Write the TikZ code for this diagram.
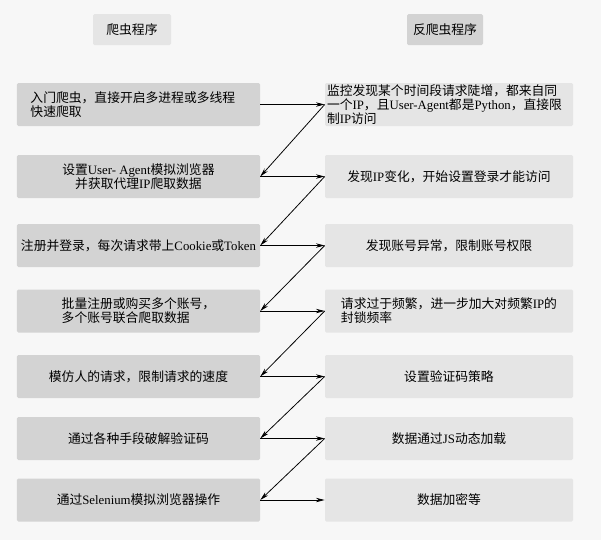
\documentclass[tikz,border=0pt]{standalone}
\usepackage{fontspec}
\setmainfont{Noto Sans CJK SC}
\newfontfamily\enfont{Liberation Serif}
\usepackage{xcolor}
\usepackage{tikz}
\usetikzlibrary{arrows.meta,positioning,calc}
\newcommand{\en}[1]{{\enfont #1}}
\definecolor{pagebg}{HTML}{F7F7F7}
\definecolor{crawlfill}{HTML}{D3D3D3}
\definecolor{antifill}{HTML}{E5E5E5}

\begin{document}
\begin{tikzpicture}[
  font=\fontsize{9.1pt}{10pt}\selectfont,
  crawlbox/.style={fill=crawlfill, rounded corners=1pt, align=left, minimum width=6.075cm, minimum height=1.075cm, inner sep=1pt},
  antibox/.style={fill=antifill, rounded corners=1pt, align=left, minimum width=6.2cm, minimum height=1.075cm, inner sep=1pt},
  crawlhead/.style={fill=antifill, rounded corners=1pt, minimum width=1.95cm, minimum height=0.775cm},
  antihead/.style={fill=crawlfill, rounded corners=1pt, minimum width=1.9cm, minimum height=0.775cm},
  wire/.style={-{Stealth[length=2.2mm, width=1.1mm]}, line width=0.55pt}
]
\useasboundingbox[fill=pagebg] (0,0) rectangle (15.025,-13.5);

\node[crawlhead] (hc) at (3.3,-0.74) {爬虫程序};
\node[antihead] (ha) at (11.125,-0.74) {反爬虫程序};

\node[crawlbox, text width=5.4cm] (c1) at (3.4625,-2.6125) {入门爬虫，直接开启多进程或多线程\\快速爬取};
\node[crawlbox, align=center] (c2) at (3.4625,-4.4125) {设置\en{User- Agent}模拟浏览器\\并获取代理\en{IP}爬取数据};
\node[crawlbox] (c3) at (3.4625,-6.1375) {注册并登录，每次请求带上\en{Cookie}或\en{Token}};
\node[crawlbox] (c4) at (3.4625,-7.775) {批量注册或购买多个账号，\\多个账号联合爬取数据};
\node[crawlbox] (c5) at (3.4625,-9.4125) {模仿人的请求，限制请求的速度};
\node[crawlbox] (c6) at (3.4625,-10.9625) {通过各种手段破解验证码};
\node[crawlbox] (c7) at (3.4625,-12.5) {通过\en{Selenium}模拟浏览器操作};

\node[antibox, text width=6.1cm] (a1) at (11.225,-2.6125) {监控发现某个时间段请求陡增，都来自同\\一个\en{IP}，且\en{User-Agent}都是\en{Python}，直接限\\制\en{IP}访问};
\node[antibox] (a2) at (11.225,-4.4125) {发现\en{IP}变化，开始设置登录才能访问};
\node[antibox] (a3) at (11.225,-6.1375) {发现账号异常，限制账号权限};
\node[antibox] (a4) at (11.225,-7.775) {请求过于频繁，进一步加大对频繁\en{IP}的\\封锁频率};
\node[antibox] (a5) at (11.225,-9.4125) {设置验证码策略};
\node[antibox] (a6) at (11.225,-10.9625) {数据通过\en{JS}动态加载};
\node[antibox] (a7) at (11.225,-12.5) {数据加密等};

% crawler step -> counter measure
\draw[wire] (c1.east) -- (a1.west);
\draw[wire] (c2.east) -- (a2.west);
\draw[wire] (c3.east) -- (a3.west);
\draw[wire] (c4.east) -- (a4.west);
\draw[wire] (c5.east) -- (a5.west);
\draw[wire] (c6.east) -- (a6.west);
\draw[wire] (c7.east) -- (a7.west);

% counter measure -> next crawler step
\draw[wire] (a1.west) -- (c2.east);
\draw[wire] (a2.west) -- (c3.east);
\draw[wire] (a3.west) -- (c4.east);
\draw[wire] (a4.west) -- (c5.east);
\draw[wire] (a5.west) -- (c6.east);
\draw[wire] (a6.west) -- (c7.east);

\end{tikzpicture}
\end{document}
